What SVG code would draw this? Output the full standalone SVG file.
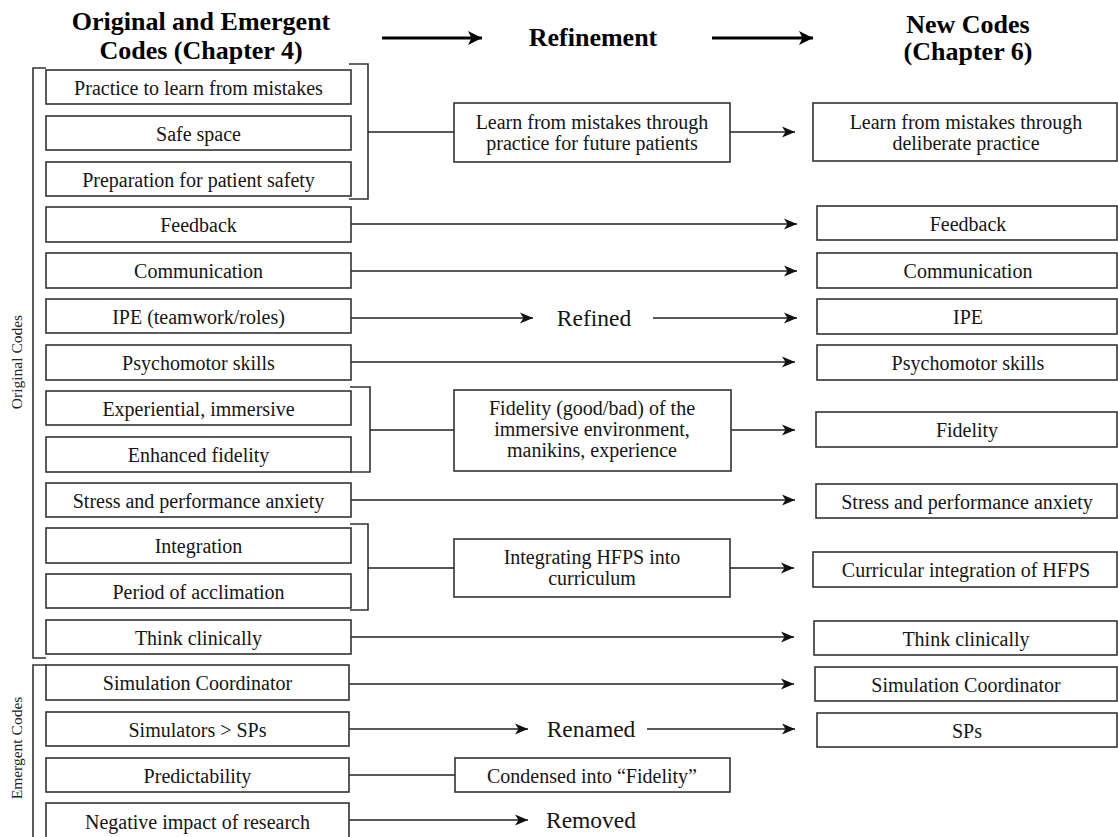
<svg xmlns="http://www.w3.org/2000/svg" width="1118" height="837" viewBox="0 0 1118 837">
<defs>
<marker id="arr" markerUnits="userSpaceOnUse" markerWidth="14" markerHeight="12" refX="13" refY="6" orient="auto">
<path d="M0,0.5 L13,6 L0,11.5 L3.5,6 Z" fill="#111"/>
</marker>
<marker id="arrH" markerUnits="userSpaceOnUse" markerWidth="16" markerHeight="16" refX="15" refY="8" orient="auto">
<path d="M1,1 L15,8 L1,15 L4.5,8 Z" fill="#000"/>
</marker>
</defs>
<style>
.box{fill:#fff;stroke:#333;stroke-width:1.6}
.t{font-family:"Liberation Serif","Times New Roman",serif;font-size:20px;fill:#151515;text-anchor:middle}
.h{font-family:"Liberation Serif","Times New Roman",serif;font-size:26px;font-weight:bold;fill:#000;text-anchor:middle}
.big{font-family:"Liberation Serif","Times New Roman",serif;font-size:23.5px;fill:#151515;text-anchor:middle}
.side{font-family:"Liberation Serif","Times New Roman",serif;font-size:15.5px;fill:#222;text-anchor:middle}
.ln{fill:none;stroke:#222;stroke-width:1.4}
.ar{fill:none;stroke:#222;stroke-width:1.4;marker-end:url(#arr)}
.br{fill:none;stroke:#333;stroke-width:1.6}
.ha{fill:none;stroke:#000;stroke-width:2.8;marker-end:url(#arrH)}
</style>
<rect width="1118" height="837" fill="#fff"/>

<g id="header">
<text class="h" x="201" y="30">Original and Emergent</text>
<text class="h" x="201" y="59">Codes (Chapter 4)</text>
<text class="h" x="593" y="46">Refinement</text>
<text class="h" x="968" y="33">New Codes</text>
<text class="h" x="968" y="60">(Chapter 6)</text>
<line class="ha" x1="382" y1="38" x2="482" y2="38"/>
<line class="ha" x1="712" y1="38" x2="813" y2="38"/>
</g>

<g id="side-labels">
<path class="br" d="M46,68 H33 V658 H46"/>
<path class="br" d="M47,665 H33 V840"/>
<text class="side" transform="translate(22,362) rotate(-90)">Original Codes</text>
<text class="side" transform="translate(22,748) rotate(-90)">Emergent Codes</text>
</g>

<g id="connectors">
<path class="br" d="M349,64 H368 V199 H349"/>
<line class="ln" x1="368" y1="132" x2="454" y2="132"/>
<line class="ar" x1="730" y1="132" x2="795" y2="132"/>
<line class="ar" x1="351" y1="224" x2="797" y2="224"/>
<line class="ar" x1="351" y1="271" x2="797" y2="271"/>
<line class="ar" x1="351" y1="318" x2="533" y2="318"/>
<line class="ar" x1="653" y1="318" x2="797" y2="318"/>
<line class="ar" x1="351" y1="362" x2="795" y2="362"/>
<path class="br" d="M350,387 H370 V472 H350"/>
<line class="ln" x1="370" y1="430" x2="454" y2="430"/>
<line class="ar" x1="731" y1="430" x2="795" y2="430"/>
<line class="ar" x1="351" y1="500" x2="795" y2="500"/>
<path class="br" d="M350,524 H368 V610 H350"/>
<line class="ln" x1="368" y1="568" x2="454" y2="568"/>
<line class="ar" x1="730" y1="568" x2="794" y2="568"/>
<line class="ar" x1="351" y1="637" x2="794" y2="637"/>
<line class="ar" x1="349" y1="684" x2="794" y2="684"/>
<line class="ar" x1="349" y1="729" x2="528" y2="729"/>
<line class="ar" x1="647" y1="729" x2="795" y2="729"/>
<line class="ln" x1="349" y1="775" x2="455" y2="775"/>
<line class="ar" x1="349" y1="820" x2="528" y2="820"/>
</g>

<g id="refined-label"><text class="big" x="594" y="326">Refined</text></g>
<g id="renamed-label"><text class="big" x="591" y="737">Renamed</text></g>
<g id="removed-label"><text class="big" x="591" y="828">Removed</text></g>

<g id="l-practice"><rect class="box" x="46" y="70" width="305" height="34"/><text class="t" x="198.5" y="95">Practice to learn from mistakes</text></g>
<g id="l-safe"><rect class="box" x="46" y="116" width="305" height="34"/><text class="t" x="198.5" y="141">Safe space</text></g>
<g id="l-prep"><rect class="box" x="46" y="162" width="305" height="34"/><text class="t" x="198.5" y="187">Preparation for patient safety</text></g>
<g id="l-feedback"><rect class="box" x="46" y="207" width="305" height="35"/><text class="t" x="198.5" y="232">Feedback</text></g>
<g id="l-comm"><rect class="box" x="46" y="253" width="305" height="35"/><text class="t" x="198.5" y="278">Communication</text></g>
<g id="l-ipe"><rect class="box" x="46" y="299" width="305" height="34"/><text class="t" x="198.5" y="324">IPE (teamwork/roles)</text></g>
<g id="l-psycho"><rect class="box" x="46" y="345" width="305" height="35"/><text class="t" x="198.5" y="370">Psychomotor skills</text></g>
<g id="l-exp"><rect class="box" x="46" y="391" width="305" height="34"/><text class="t" x="198.5" y="416">Experiential, immersive</text></g>
<g id="l-enh"><rect class="box" x="46" y="437" width="305" height="35"/><text class="t" x="198.5" y="462">Enhanced fidelity</text></g>
<g id="l-stress"><rect class="box" x="46" y="483" width="305" height="34"/><text class="t" x="198.5" y="508">Stress and performance anxiety</text></g>
<g id="l-integ"><rect class="box" x="46" y="528" width="305" height="35"/><text class="t" x="198.5" y="553">Integration</text></g>
<g id="l-period"><rect class="box" x="46" y="574" width="305" height="34"/><text class="t" x="198.5" y="599">Period of acclimation</text></g>
<g id="l-think"><rect class="box" x="46" y="620" width="305" height="34"/><text class="t" x="198.5" y="645">Think clinically</text></g>
<g id="l-simcoord"><rect class="box" x="46" y="665" width="303" height="35"/><text class="t" x="197.5" y="690">Simulation Coordinator</text></g>
<g id="l-simsps"><rect class="box" x="46" y="712" width="303" height="34"/><text class="t" x="197.5" y="737">Simulators &gt; SPs</text></g>
<g id="l-predict"><rect class="box" x="46" y="758" width="303" height="34"/><text class="t" x="197.5" y="783">Predictability</text></g>
<g id="l-negative"><rect class="box" x="46" y="803" width="303" height="36"/><text class="t" x="197.5" y="829">Negative impact of research</text></g>

<g id="m-learn"><rect class="box" x="454" y="103" width="276" height="59"/><text class="t" x="592" y="129">Learn from mistakes through</text><text class="t" x="592" y="150">practice for future patients</text></g>
<g id="m-fidelity"><rect class="box" x="454" y="390" width="277" height="81"/><text class="t" x="592" y="415">Fidelity (good/bad) of the</text><text class="t" x="592" y="436">immersive environment,</text><text class="t" x="592" y="457">manikins, experience</text></g>
<g id="m-integ"><rect class="box" x="454" y="539" width="276" height="58"/><text class="t" x="592" y="564">Integrating HFPS into</text><text class="t" x="592" y="585">curriculum</text></g>
<g id="m-condensed"><rect class="box" x="455" y="758" width="275" height="34"/><text class="t" x="592" y="783">Condensed into “Fidelity”</text></g>

<g id="r-learn"><rect class="box" x="813" y="103" width="304" height="58"/><text class="t" x="966" y="129">Learn from mistakes through</text><text class="t" x="966" y="150">deliberate practice</text></g>
<g id="r-feedback"><rect class="box" x="817" y="206" width="300" height="34"/><text class="t" x="968" y="231">Feedback</text></g>
<g id="r-comm"><rect class="box" x="817" y="253" width="300" height="35"/><text class="t" x="968" y="278">Communication</text></g>
<g id="r-ipe"><rect class="box" x="817" y="299" width="300" height="35"/><text class="t" x="968" y="324">IPE</text></g>
<g id="r-psycho"><rect class="box" x="817" y="345" width="300" height="35"/><text class="t" x="968" y="370">Psychomotor skills</text></g>
<g id="r-fidelity"><rect class="box" x="816" y="412" width="301" height="35"/><text class="t" x="967" y="437">Fidelity</text></g>
<g id="r-stress"><rect class="box" x="816" y="484" width="301" height="34"/><text class="t" x="967" y="509">Stress and performance anxiety</text></g>
<g id="r-curric"><rect class="box" x="813" y="552" width="304" height="35"/><text class="t" x="966" y="577">Curricular integration of HFPS</text></g>
<g id="r-think"><rect class="box" x="814" y="621" width="303" height="34"/><text class="t" x="966" y="646">Think clinically</text></g>
<g id="r-simcoord"><rect class="box" x="815" y="667" width="302" height="34"/><text class="t" x="966" y="692">Simulation Coordinator</text></g>
<g id="r-sps"><rect class="box" x="817" y="713" width="300" height="34"/><text class="t" x="967" y="738">SPs</text></g>
</svg>
